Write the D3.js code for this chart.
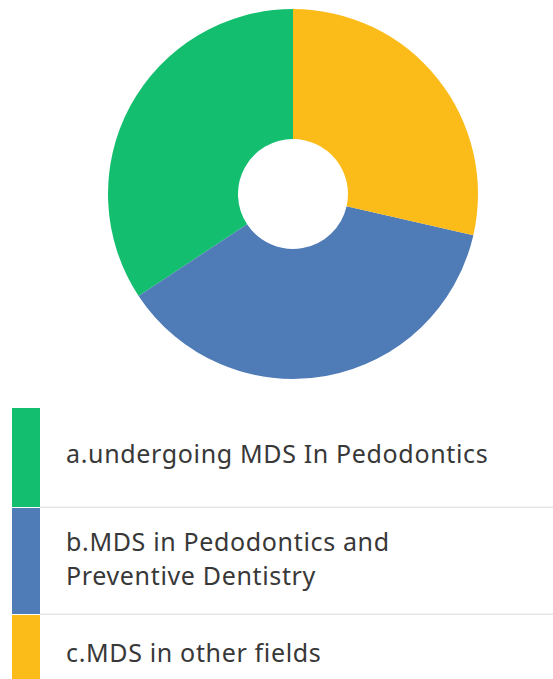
<!DOCTYPE html>
<html>
<head>
<meta charset="utf-8">
<script src="https://cdn.jsdelivr.net/npm/d3@7"></script>
<style>
  html, body { margin: 0; padding: 0; background: #fff; }
  svg { display: block; }
</style>
</head>
<body>
<svg id="chart" width="553" height="679"></svg>
<script>
// Responses
const categories = [
  "a.undergoing MDS In Pedodontics",
  "b.MDS in Pedodontics and\nPreventive Dentistry",
  "c.MDS in other fields"
];
const counts = [12, 13, 10];
const colors = ["#13bf6e", "#4f7bb6", "#fbbc1a"];

const svg = d3.select("#chart");

// Donut, drawn counter-clockwise from 12 o'clock
const cx = 293, cy = 194, outerR = 185, innerR = 55;
const pie = d3.pie().sort(null).startAngle(0).endAngle(-2 * Math.PI);
const arc = d3.arc().innerRadius(innerR).outerRadius(outerR);
const color = d3.scaleOrdinal().domain(categories).range(colors);

svg.append("g")
  .attr("transform", `translate(${cx},${cy})`)
  .selectAll("path")
  .data(pie(counts))
  .join("path")
  .attr("d", arc)
  .attr("fill", (d, i) => color(categories[i]));

// Legend rows: colour bar, label, thin separator
const rows = [
  { top: 408, bottom: 507, baseline: [463] },
  { top: 508, bottom: 614, baseline: [551, 585] },
  { top: 615, bottom: 690, baseline: [662] }
];
const legend = svg.append("g");
rows.forEach((r, i) => {
  legend.append("rect")
    .attr("x", 12).attr("y", r.top)
    .attr("width", 28).attr("height", r.bottom - r.top)
    .attr("fill", color(categories[i]));
  if (i < rows.length - 1) {
    legend.append("rect")
      .attr("x", 40).attr("y", r.bottom - 0.5)
      .attr("width", 513).attr("height", 1.5)
      .attr("fill", "#e6e6e6");
  }
  const lines = categories[i].split("\n");
  lines.forEach((t, j) => {
    legend.append("text")
      .attr("x", 66).attr("y", r.baseline[j])
      .attr("font-family", "'Noto Sans', sans-serif")
      .attr("font-size", 25)
      .attr("letter-spacing", 0.65)
      .attr("fill", "#383838")
      .text(t);
  });
});
</script>
</body>
</html>
